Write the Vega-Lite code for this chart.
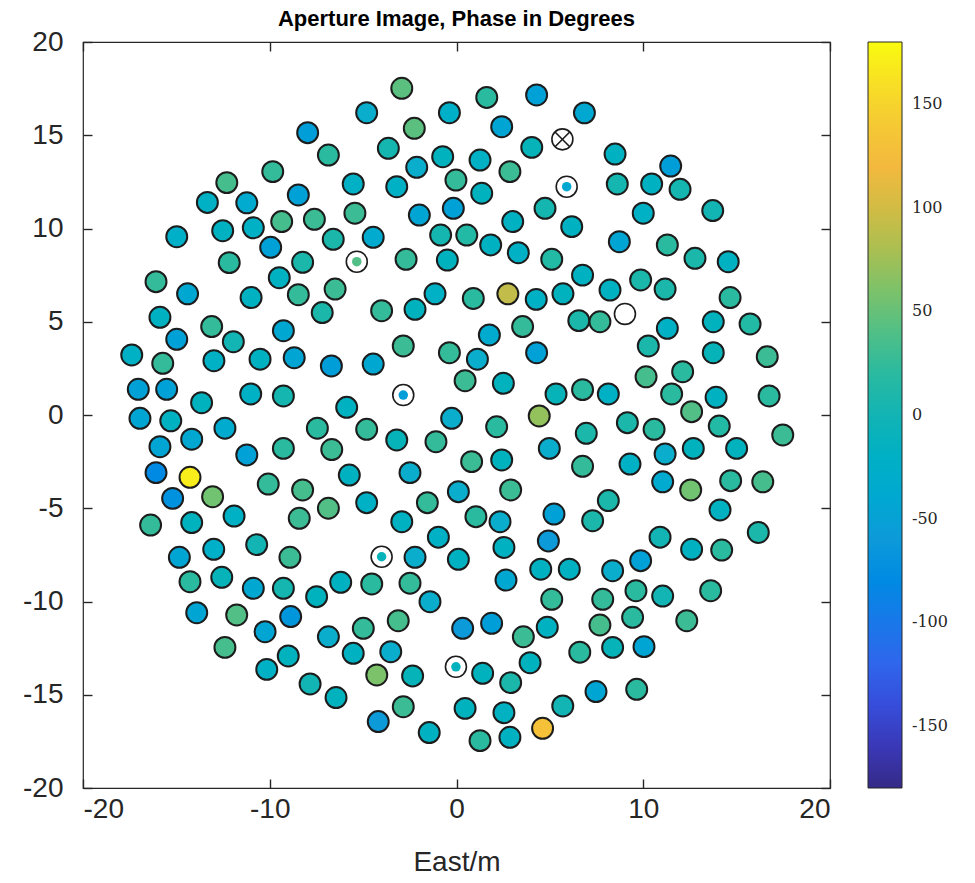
{
"$schema": "https://vega.github.io/schema/vega-lite/v6.json",
"autosize": {"type": "none"},
"padding": {"left": 83, "top": 42, "right": 145, "bottom": 95},
"width": 747,
"height": 746,
"background": "white",
"title": {"text": "Aperture Image, Phase in Degrees", "font": "Liberation Sans", "fontSize": 22, "fontWeight": "bold", "color": "#000000", "offset": -3, "anchor": "middle"},
"config": {
  "view": {"stroke": "#262626", "strokeWidth": 1.2},
  "axis": {"grid": false, "domain": false, "labelFont": "Liberation Sans", "labelFontSize": 28, "labelColor": "#262626", "labelExpr": "'' + datum.value", "tickColor": "#262626", "tickSize": 9, "offset": -9, "tickWidth": 1.4, "titleFont": "Liberation Sans", "titleFontSize": 28, "titleFontWeight": "normal", "titleColor": "#262626"}
},
"data": {"values": [
{"east":-2.93,"north":17.52,"phase":45,"status":"ok"},
{"east":1.62,"north":17.03,"phase":20,"status":"ok"},
{"east":4.29,"north":17.16,"phase":-50,"status":"ok"},
{"east":-4.81,"north":16.21,"phase":-30,"status":"ok"},
{"east":-0.38,"north":16.21,"phase":-25,"status":"ok"},
{"east":6.85,"north":16.2,"phase":-40,"status":"ok"},
{"east":-7.97,"north":15.14,"phase":-55,"status":"ok"},
{"east":-2.26,"north":15.37,"phase":45,"status":"ok"},
{"east":2.42,"north":15.46,"phase":-45,"status":"ok"},
{"east":5.67,"north":14.78,"status":"crossed"},
{"east":-6.86,"north":13.94,"phase":20,"status":"ok"},
{"east":-3.65,"north":14.3,"phase":5,"status":"ok"},
{"east":-0.74,"north":13.85,"phase":-10,"status":"ok"},
{"east":1.26,"north":13.67,"phase":-20,"status":"ok"},
{"east":4.03,"north":14.35,"phase":-5,"status":"ok"},
{"east":8.49,"north":13.99,"phase":-15,"status":"ok"},
{"east":-9.84,"north":13.05,"phase":25,"status":"ok"},
{"east":-2.13,"north":13.28,"phase":-30,"status":"ok"},
{"east":2.86,"north":13.05,"phase":30,"status":"ok"},
{"east":11.47,"north":13.35,"phase":-55,"status":"ok"},
{"east":-12.3,"north":12.46,"phase":35,"status":"ok"},
{"east":-5.53,"north":12.39,"phase":-20,"status":"ok"},
{"east":-3.2,"north":12.24,"phase":-20,"status":"ok"},
{"east":-0.03,"north":12.6,"phase":25,"status":"ok"},
{"east":1.35,"north":11.89,"phase":-10,"status":"ok"},
{"east":5.9,"north":12.24,"phase":-40,"status":"flagged"},
{"east":8.61,"north":12.39,"phase":5,"status":"ok"},
{"east":10.45,"north":12.39,"phase":-15,"status":"ok"},
{"east":11.97,"north":12.1,"phase":5,"status":"ok"},
{"east":-13.34,"north":11.4,"phase":-20,"status":"ok"},
{"east":-11.23,"north":11.38,"phase":-35,"status":"ok"},
{"east":-8.47,"north":11.8,"phase":-50,"status":"ok"},
{"east":-5.44,"north":10.82,"phase":30,"status":"ok"},
{"east":-1.99,"north":10.72,"phase":-45,"status":"ok"},
{"east":-0.17,"north":11.08,"phase":-50,"status":"ok"},
{"east":4.74,"north":11.08,"phase":5,"status":"ok"},
{"east":10.0,"north":10.82,"phase":-20,"status":"ok"},
{"east":13.72,"north":10.96,"phase":0,"status":"ok"},
{"east":-12.52,"north":9.88,"phase":-15,"status":"ok"},
{"east":-10.88,"north":10.04,"phase":-20,"status":"ok"},
{"east":-9.36,"north":10.37,"phase":35,"status":"ok"},
{"east":-7.61,"north":10.49,"phase":30,"status":"ok"},
{"east":3.01,"north":10.37,"phase":-15,"status":"ok"},
{"east":6.17,"north":10.1,"phase":-15,"status":"ok"},
{"east":-14.98,"north":9.56,"phase":-25,"status":"ok"},
{"east":-9.95,"north":8.99,"phase":-50,"status":"ok"},
{"east":-6.6,"north":9.42,"phase":10,"status":"ok"},
{"east":-4.46,"north":9.53,"phase":-35,"status":"ok"},
{"east":-0.85,"north":9.65,"phase":5,"status":"ok"},
{"east":0.55,"north":9.65,"phase":15,"status":"ok"},
{"east":1.83,"north":9.12,"phase":-15,"status":"ok"},
{"east":8.72,"north":9.29,"phase":-45,"status":"ok"},
{"east":11.29,"north":9.12,"phase":20,"status":"ok"},
{"east":-12.17,"north":8.17,"phase":20,"status":"ok"},
{"east":-8.24,"north":8.19,"phase":10,"status":"ok"},
{"east":-5.34,"north":8.22,"phase":40,"status":"flagged"},
{"east":-2.7,"north":8.35,"phase":25,"status":"ok"},
{"east":-0.49,"north":8.31,"phase":-10,"status":"ok"},
{"east":3.31,"north":8.7,"phase":-20,"status":"ok"},
{"east":5.1,"north":8.35,"phase":15,"status":"ok"},
{"east":12.77,"north":8.4,"phase":10,"status":"ok"},
{"east":14.55,"north":8.22,"phase":-15,"status":"ok"},
{"east":-16.09,"north":7.15,"phase":25,"status":"ok"},
{"east":-9.49,"north":7.36,"phase":-15,"status":"ok"},
{"east":-6.5,"north":6.75,"phase":30,"status":"ok"},
{"east":6.75,"north":7.5,"phase":-15,"status":"ok"},
{"east":9.86,"north":7.24,"phase":10,"status":"ok"},
{"east":8.22,"north":6.7,"phase":-15,"status":"ok"},
{"east":11.17,"north":6.75,"phase":10,"status":"ok"},
{"east":-14.4,"north":6.5,"phase":-40,"status":"ok"},
{"east":-11.0,"north":6.3,"phase":-15,"status":"ok"},
{"east":-8.47,"north":6.45,"phase":25,"status":"ok"},
{"east":-1.15,"north":6.5,"phase":-20,"status":"ok"},
{"east":0.9,"north":6.25,"phase":20,"status":"ok"},
{"east":2.75,"north":6.5,"phase":90,"status":"ok"},
{"east":4.27,"north":6.2,"phase":-20,"status":"ok"},
{"east":5.7,"north":6.5,"phase":-10,"status":"ok"},
{"east":14.65,"north":6.3,"phase":20,"status":"ok"},
{"east":-15.88,"north":5.24,"phase":-15,"status":"ok"},
{"east":-13.11,"north":4.74,"phase":25,"status":"ok"},
{"east":-7.19,"north":5.49,"phase":10,"status":"ok"},
{"east":-4.01,"north":5.59,"phase":25,"status":"ok"},
{"east":-2.22,"north":5.67,"phase":-10,"status":"ok"},
{"east":3.54,"north":4.74,"phase":25,"status":"ok"},
{"east":6.55,"north":5.06,"phase":10,"status":"ok"},
{"east":7.68,"north":5.0,"phase":25,"status":"ok"},
{"east":9.02,"north":5.42,"status":"empty"},
{"east":11.29,"north":4.65,"phase":-20,"status":"ok"},
{"east":13.75,"north":5.0,"phase":-10,"status":"ok"},
{"east":15.72,"north":4.88,"phase":15,"status":"ok"},
{"east":-14.98,"north":4.06,"phase":-50,"status":"ok"},
{"east":-11.95,"north":3.93,"phase":0,"status":"ok"},
{"east":-9.27,"north":4.52,"phase":-40,"status":"ok"},
{"east":-2.85,"north":3.7,"phase":30,"status":"ok"},
{"east":1.76,"north":4.29,"phase":-35,"status":"ok"},
{"east":10.27,"north":3.7,"phase":10,"status":"ok"},
{"east":-17.39,"north":3.22,"phase":-20,"status":"ok"},
{"east":-15.73,"north":2.77,"phase":25,"status":"ok"},
{"east":-12.99,"north":2.91,"phase":-20,"status":"ok"},
{"east":-10.52,"north":2.99,"phase":-15,"status":"ok"},
{"east":-8.69,"north":3.07,"phase":-45,"status":"ok"},
{"east":-6.7,"north":2.63,"phase":-55,"status":"ok"},
{"east":-4.46,"north":2.73,"phase":-40,"status":"ok"},
{"east":-0.38,"north":3.34,"phase":25,"status":"ok"},
{"east":1.12,"north":2.99,"phase":-30,"status":"ok"},
{"east":4.29,"north":3.34,"phase":-50,"status":"ok"},
{"east":13.75,"north":3.34,"phase":-5,"status":"ok"},
{"east":16.64,"north":3.13,"phase":30,"status":"ok"},
{"east":0.46,"north":1.84,"phase":30,"status":"ok"},
{"east":2.51,"north":1.7,"phase":-10,"status":"ok"},
{"east":10.15,"north":2.05,"phase":35,"status":"ok"},
{"east":12.11,"north":2.32,"phase":20,"status":"ok"},
{"east":-17.04,"north":1.38,"phase":-50,"status":"ok"},
{"east":-15.52,"north":1.38,"phase":-50,"status":"ok"},
{"east":-13.65,"north":0.66,"phase":-10,"status":"ok"},
{"east":-11.02,"north":1.13,"phase":-20,"status":"ok"},
{"east":-9.27,"north":1.02,"phase":5,"status":"ok"},
{"east":-2.85,"north":1.07,"phase":-55,"status":"flagged"},
{"east":5.33,"north":1.13,"phase":-5,"status":"ok"},
{"east":6.75,"north":1.36,"phase":20,"status":"ok"},
{"east":8.13,"north":1.13,"phase":-20,"status":"ok"},
{"east":11.52,"north":1.13,"phase":20,"status":"ok"},
{"east":13.9,"north":0.95,"phase":-15,"status":"ok"},
{"east":16.74,"north":1.02,"phase":20,"status":"ok"},
{"east":12.59,"north":0.18,"phase":40,"status":"ok"},
{"east":-5.88,"north":0.41,"phase":-15,"status":"ok"},
{"east":-16.95,"north":-0.18,"phase":-45,"status":"ok"},
{"east":-15.3,"north":-0.31,"phase":-15,"status":"ok"},
{"east":-12.4,"north":-0.71,"phase":-35,"status":"ok"},
{"east":-7.45,"north":-0.71,"phase":20,"status":"ok"},
{"east":-0.26,"north":-0.18,"phase":-30,"status":"ok"},
{"east":4.43,"north":-0.05,"phase":70,"status":"ok"},
{"east":-4.81,"north":-0.77,"phase":25,"status":"ok"},
{"east":2.15,"north":-0.63,"phase":20,"status":"ok"},
{"east":6.95,"north":-0.98,"phase":10,"status":"ok"},
{"east":9.15,"north":-0.41,"phase":10,"status":"ok"},
{"east":10.58,"north":-0.77,"phase":20,"status":"ok"},
{"east":14.07,"north":-0.59,"phase":15,"status":"ok"},
{"east":17.47,"north":-1.07,"phase":30,"status":"ok"},
{"east":-14.18,"north":-1.3,"phase":-40,"status":"ok"},
{"east":-15.88,"north":-1.7,"phase":-45,"status":"ok"},
{"east":-11.23,"north":-2.14,"phase":-50,"status":"ok"},
{"east":-9.27,"north":-1.79,"phase":20,"status":"ok"},
{"east":-6.68,"north":-1.85,"phase":30,"status":"ok"},
{"east":-3.2,"north":-1.34,"phase":-5,"status":"ok"},
{"east":-1.1,"north":-1.43,"phase":25,"status":"ok"},
{"east":4.97,"north":-1.79,"phase":-30,"status":"ok"},
{"east":0.81,"north":-2.5,"phase":30,"status":"ok"},
{"east":2.42,"north":-2.41,"phase":-10,"status":"ok"},
{"east":6.75,"north":-2.75,"phase":25,"status":"ok"},
{"east":9.29,"north":-2.63,"phase":-20,"status":"ok"},
{"east":11.17,"north":-2.09,"phase":-30,"status":"ok"},
{"east":12.68,"north":-1.79,"phase":-10,"status":"ok"},
{"east":15.0,"north":-1.79,"phase":-10,"status":"ok"},
{"east":-16.09,"north":-3.09,"phase":-80,"status":"ok"},
{"east":-14.27,"north":-3.34,"phase":170,"status":"ok"},
{"east":-10.08,"north":-3.7,"phase":25,"status":"ok"},
{"east":-8.24,"north":-4.02,"phase":35,"status":"ok"},
{"east":-5.74,"north":-3.22,"phase":-15,"status":"ok"},
{"east":-2.49,"north":-3.09,"phase":-30,"status":"ok"},
{"east":11.04,"north":-3.58,"phase":-35,"status":"ok"},
{"east":14.68,"north":-3.52,"phase":20,"status":"ok"},
{"east":16.4,"north":-3.58,"phase":35,"status":"ok"},
{"east":-15.2,"north":-4.47,"phase":-70,"status":"ok"},
{"east":-13.06,"north":-4.38,"phase":55,"status":"ok"},
{"east":2.9,"north":-4.02,"phase":30,"status":"ok"},
{"east":0.1,"north":-4.11,"phase":-30,"status":"ok"},
{"east":-4.81,"north":-4.7,"phase":-20,"status":"ok"},
{"east":-1.56,"north":-4.7,"phase":25,"status":"ok"},
{"east":12.54,"north":-4.02,"phase":55,"status":"ok"},
{"east":8.13,"north":-4.59,"phase":10,"status":"ok"},
{"east":-16.38,"north":-5.9,"phase":25,"status":"ok"},
{"east":-14.18,"north":-5.77,"phase":-10,"status":"ok"},
{"east":-11.91,"north":-5.42,"phase":-20,"status":"ok"},
{"east":-8.42,"north":-5.54,"phase":30,"status":"ok"},
{"east":-6.86,"north":-5.0,"phase":40,"status":"ok"},
{"east":-2.93,"north":-5.72,"phase":-15,"status":"ok"},
{"east":1.04,"north":-5.45,"phase":20,"status":"ok"},
{"east":2.33,"north":-5.72,"phase":-30,"status":"ok"},
{"east":5.22,"north":-5.31,"phase":-50,"status":"ok"},
{"east":7.29,"north":-5.67,"phase":10,"status":"ok"},
{"east":14.11,"north":-5.09,"phase":-15,"status":"ok"},
{"east":-13.0,"north":-7.2,"phase":-25,"status":"ok"},
{"east":-10.7,"north":-6.95,"phase":0,"status":"ok"},
{"east":-0.97,"north":-6.55,"phase":-20,"status":"ok"},
{"east":2.54,"north":-7.1,"phase":-15,"status":"ok"},
{"east":4.92,"north":-6.75,"phase":-60,"status":"ok"},
{"east":10.9,"north":-6.55,"phase":0,"status":"ok"},
{"east":16.16,"north":-6.3,"phase":10,"status":"ok"},
{"east":12.59,"north":-7.2,"phase":-15,"status":"ok"},
{"east":14.2,"north":-7.24,"phase":20,"status":"ok"},
{"east":-14.84,"north":-7.63,"phase":-45,"status":"ok"},
{"east":-8.92,"north":-7.63,"phase":30,"status":"ok"},
{"east":-4.01,"north":-7.6,"phase":-5,"status":"flagged"},
{"east":-2.22,"north":-7.63,"phase":-30,"status":"ok"},
{"east":0.1,"north":-7.74,"phase":-15,"status":"ok"},
{"east":9.86,"north":-7.81,"phase":-50,"status":"ok"},
{"east":-14.27,"north":-8.94,"phase":20,"status":"ok"},
{"east":-12.57,"north":-8.7,"phase":-5,"status":"ok"},
{"east":-10.88,"north":-9.29,"phase":-40,"status":"ok"},
{"east":-9.27,"north":-9.29,"phase":5,"status":"ok"},
{"east":-7.49,"north":-9.74,"phase":-10,"status":"ok"},
{"east":-6.2,"north":-8.97,"phase":-15,"status":"ok"},
{"east":-4.54,"north":-9.06,"phase":20,"status":"ok"},
{"east":-2.49,"north":-9.02,"phase":25,"status":"ok"},
{"east":2.65,"north":-8.85,"phase":-40,"status":"ok"},
{"east":4.51,"north":-8.27,"phase":-15,"status":"ok"},
{"east":6.04,"north":-8.27,"phase":-15,"status":"ok"},
{"east":8.36,"north":-8.35,"phase":-30,"status":"ok"},
{"east":-13.91,"north":-10.6,"phase":-45,"status":"ok"},
{"east":-11.77,"north":-10.72,"phase":40,"status":"ok"},
{"east":-8.88,"north":-10.81,"phase":-65,"status":"ok"},
{"east":-1.42,"north":-10.01,"phase":-30,"status":"ok"},
{"east":5.1,"north":-9.88,"phase":25,"status":"ok"},
{"east":7.83,"north":-9.88,"phase":25,"status":"ok"},
{"east":9.61,"north":-9.42,"phase":20,"status":"ok"},
{"east":11.04,"north":-9.71,"phase":0,"status":"ok"},
{"east":13.61,"north":-9.42,"phase":20,"status":"ok"},
{"east":-10.25,"north":-11.62,"phase":-45,"status":"ok"},
{"east":-6.86,"north":-11.89,"phase":-30,"status":"ok"},
{"east":-4.99,"north":-11.44,"phase":25,"status":"ok"},
{"east":-3.12,"north":-11.03,"phase":35,"status":"ok"},
{"east":0.33,"north":-11.44,"phase":-60,"status":"ok"},
{"east":1.88,"north":-11.17,"phase":-55,"status":"ok"},
{"east":3.58,"north":-11.89,"phase":30,"status":"ok"},
{"east":4.86,"north":-11.38,"phase":-15,"status":"ok"},
{"east":7.68,"north":-11.26,"phase":35,"status":"ok"},
{"east":9.43,"north":-10.85,"phase":20,"status":"ok"},
{"east":12.33,"north":-11.03,"phase":30,"status":"ok"},
{"east":-12.4,"north":-12.46,"phase":35,"status":"ok"},
{"east":-9.01,"north":-12.92,"phase":-10,"status":"ok"},
{"east":-5.53,"north":-12.78,"phase":-15,"status":"ok"},
{"east":-3.52,"north":-12.69,"phase":-30,"status":"ok"},
{"east":3.94,"north":-13.28,"phase":-10,"status":"ok"},
{"east":6.6,"north":-12.72,"phase":20,"status":"ok"},
{"east":8.36,"north":-12.46,"phase":-5,"status":"ok"},
{"east":10.04,"north":-12.42,"phase":-45,"status":"ok"},
{"east":-10.16,"north":-13.64,"phase":-20,"status":"ok"},
{"east":-7.84,"north":-14.42,"phase":0,"status":"ok"},
{"east":-4.27,"north":-13.94,"phase":60,"status":"ok"},
{"east":-2.35,"north":-13.99,"phase":-5,"status":"ok"},
{"east":-0.03,"north":-13.5,"phase":-10,"status":"flagged"},
{"east":1.4,"north":-13.85,"phase":-10,"status":"ok"},
{"east":2.9,"north":-14.35,"phase":10,"status":"ok"},
{"east":-6.45,"north":-15.15,"phase":-10,"status":"ok"},
{"east":-2.85,"north":-15.64,"phase":30,"status":"ok"},
{"east":0.46,"north":-15.73,"phase":-10,"status":"ok"},
{"east":2.54,"north":-15.96,"phase":-15,"status":"ok"},
{"east":5.69,"north":-15.6,"phase":0,"status":"ok"},
{"east":7.47,"north":-14.83,"phase":-45,"status":"ok"},
{"east":9.65,"north":-14.71,"phase":20,"status":"ok"},
{"east":-4.19,"north":-16.44,"phase":-60,"status":"ok"},
{"east":-1.46,"north":-17.03,"phase":-15,"status":"ok"},
{"east":1.26,"north":-17.46,"phase":20,"status":"ok"},
{"east":2.86,"north":-17.28,"phase":-15,"status":"ok"},
{"east":4.61,"north":-16.8,"phase":130,"status":"ok"}
]},
"layer": [
  {
    "transform": [{"filter": "datum.status === 'ok'"}],
    "mark": {"type": "circle", "size": 440, "opacity": 1, "stroke": "#1c1c1c", "strokeWidth": 2},
    "encoding": {
      "x": {"field": "east", "type": "quantitative", "scale": {"domain": [-20, 20], "nice": false, "zero": false}, "axis": {"values": [-20, -10, 0, 10, 20], "title": "East/m", "labelPadding": 7, "titlePadding": 25}},
      "y": {"field": "north", "type": "quantitative", "scale": {"domain": [-20, 20], "nice": false, "zero": false}, "axis": {"values": [-20, -15, -10, -5, 0, 5, 10, 15, 20], "title": null, "labelPadding": 20}},
      "color": {"field": "phase", "type": "quantitative",
        "scale": {"domain": [-180, -150, -120, -90, -60, -30, 0, 30, 60, 90, 120, 150, 180], "range": ["#352a87", "#3a3fd0", "#2f66ec", "#1a80e6", "#0d9ad9", "#0aaecc", "#12b4b4", "#3cbc94", "#7cc26a", "#c2bc4a", "#f3b93e", "#f5d12e", "#f9fb0e"]},
        "legend": {"title": null, "orient": "right", "offset": 37, "padding": 0, "direction": "vertical", "gradientLength": 746, "gradientThickness": 34, "values": [-150, -100, -50, 0, 50, 100, 150], "labelExpr": "'' + datum.value", "labelFont": "DejaVu Serif", "labelFontSize": 16, "labelColor": "#262626", "labelOffset": 10, "gradientStrokeColor": "#262626", "gradientStrokeWidth": 1}}
    }
  },
  {
    "transform": [{"filter": "datum.status !== 'ok'"}],
    "mark": {"type": "circle", "size": 440, "opacity": 1, "fill": "white", "stroke": "#1c1c1c", "strokeWidth": 1.6},
    "encoding": {
      "x": {"field": "east", "type": "quantitative", "axis": {"orient": "top", "values": [-20, -10, 0, 10, 20], "labels": false, "title": null}},
      "y": {"field": "north", "type": "quantitative", "axis": {"orient": "right", "values": [-20, -15, -10, -5, 0, 5, 10, 15, 20], "labels": false, "title": null}}
    }
  },
  {
    "transform": [{"filter": "datum.status === 'flagged'"}],
    "mark": {"type": "circle", "size": 90, "opacity": 1},
    "encoding": {
      "x": {"field": "east", "type": "quantitative", "axis": null},
      "y": {"field": "north", "type": "quantitative", "axis": null},
      "color": {"field": "phase", "type": "quantitative"}
    }
  },
  {
    "transform": [{"filter": "datum.status === 'crossed'"}],
    "mark": {"type": "point", "shape": "M-0.7,-0.7L0.7,0.7M-0.7,0.7L0.7,-0.7", "size": 440, "filled": false, "stroke": "#1c1c1c", "strokeWidth": 1.6, "opacity": 1},
    "encoding": {
      "x": {"field": "east", "type": "quantitative", "axis": null},
      "y": {"field": "north", "type": "quantitative", "axis": null}
    }
  }
],
"resolve": {"axis": {"x": "independent", "y": "independent"}}
}
